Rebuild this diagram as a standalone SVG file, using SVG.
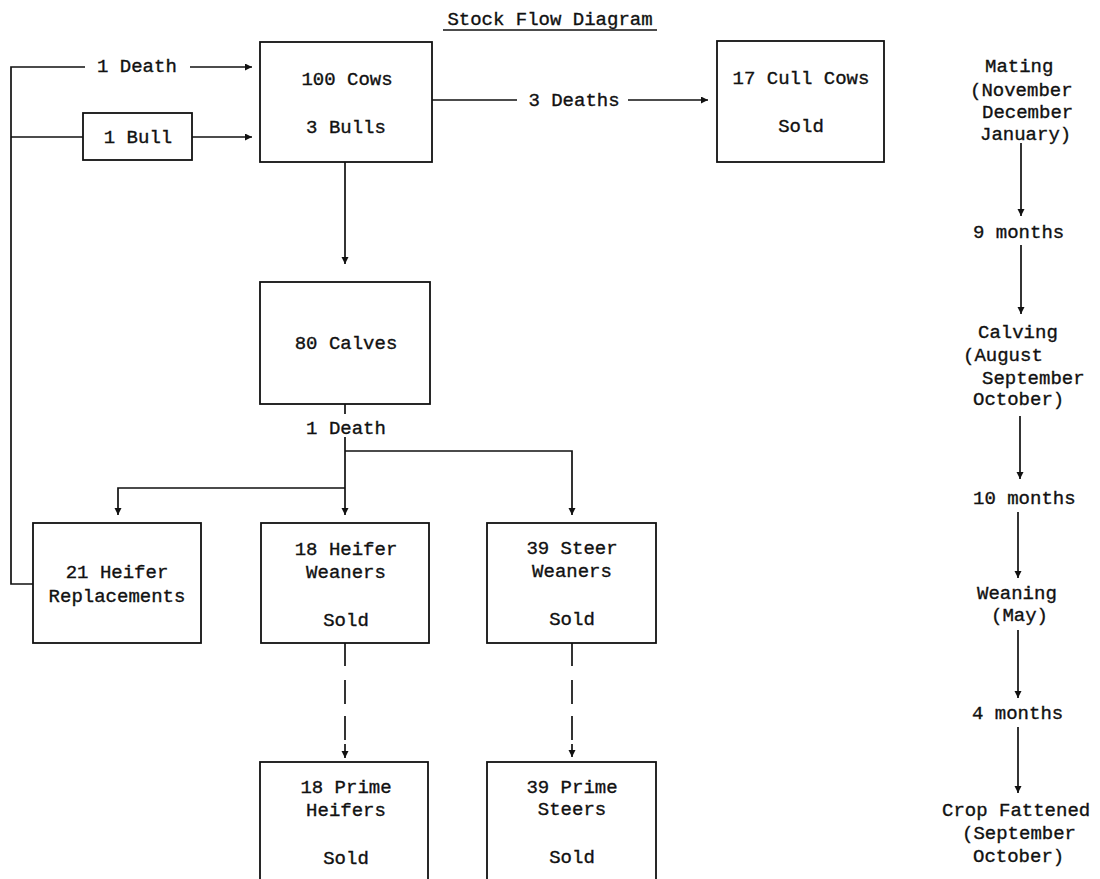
<svg xmlns="http://www.w3.org/2000/svg" width="1100" height="879" viewBox="0 0 1100 879">
<style>
text{font-family:"Liberation Mono","DejaVu Sans Mono",monospace;font-size:19px;fill:#111;stroke:#111;stroke-width:0.35}
.m{text-anchor:middle}
.box{fill:none;stroke:#111;stroke-width:1.8}
.ln{fill:none;stroke:#111;stroke-width:1.7}
</style>
<defs>
<marker id="ah" markerUnits="userSpaceOnUse" markerWidth="8" markerHeight="8" refX="7" refY="3.5" orient="auto">
<path d="M0,0 L7,3.5 L0,7 z" fill="#111"/>
</marker>
</defs>
<rect width="1100" height="879" fill="#fff"/>
<g id="title">
<text x="550" y="25" class="m">Stock Flow Diagram</text>
<line x1="443" y1="30" x2="657" y2="30" class="ln"/>
</g>
<g id="connectors">
<polyline points="33,584 11,584 11,67 85,67" class="ln"/>
<line x1="190" y1="67" x2="252" y2="67" class="ln" marker-end="url(#ah)"/>
<line x1="11" y1="137" x2="83" y2="137" class="ln"/>
<line x1="192" y1="137" x2="252" y2="137" class="ln" marker-end="url(#ah)"/>
<line x1="432" y1="100" x2="517" y2="100" class="ln"/>
<line x1="628" y1="100" x2="708" y2="100" class="ln" marker-end="url(#ah)"/>
<line x1="345" y1="162" x2="345" y2="264" class="ln" marker-end="url(#ah)"/>
<line x1="345" y1="404" x2="345" y2="414" class="ln"/>
<line x1="345" y1="437" x2="345" y2="515" class="ln" marker-end="url(#ah)"/>
<polyline points="345,451 572,451 572,515" class="ln" marker-end="url(#ah)"/>
<polyline points="345,488 118,488 118,515" class="ln" marker-end="url(#ah)"/>
<path d="M345,643 V666 M345,680 V704 M345,716 V740" class="ln"/>
<line x1="345" y1="744" x2="345" y2="758" class="ln" marker-end="url(#ah)"/>
<path d="M572,643 V666 M572,680 V704 M572,716 V740" class="ln"/>
<line x1="572" y1="744" x2="572" y2="757" class="ln" marker-end="url(#ah)"/>
<line x1="1021" y1="143" x2="1021" y2="216" class="ln" marker-end="url(#ah)"/>
<line x1="1021" y1="245" x2="1021" y2="314" class="ln" marker-end="url(#ah)"/>
<line x1="1020" y1="416" x2="1020" y2="479" class="ln" marker-end="url(#ah)"/>
<line x1="1018" y1="512" x2="1018" y2="578" class="ln" marker-end="url(#ah)"/>
<line x1="1018" y1="630" x2="1018" y2="698" class="ln" marker-end="url(#ah)"/>
<line x1="1018" y1="727" x2="1018" y2="793" class="ln" marker-end="url(#ah)"/>
</g>
<g id="label-death-top"><text x="97" y="72">1 Death</text></g>
<g id="label-deaths"><text x="574" y="106" class="m">3 Deaths</text></g>
<g id="label-death-calves"><text x="346" y="434" class="m">1 Death</text></g>
<g id="bull">
<rect x="83" y="113" width="109" height="47" class="box"/>
<text x="138" y="143" class="m">1 Bull</text>
</g>
<g id="cows">
<rect x="260" y="42" width="172" height="120" class="box"/>
<text x="347" y="85" class="m">100 Cows</text>
<text x="346" y="133" class="m">3 Bulls</text>
</g>
<g id="cull">
<rect x="717" y="41" width="167" height="121" class="box"/>
<text x="801" y="84" class="m">17 Cull Cows</text>
<text x="801" y="132" class="m">Sold</text>
</g>
<g id="calves">
<rect x="260" y="282" width="170" height="122" class="box"/>
<text x="346" y="349" class="m">80 Calves</text>
</g>
<g id="replacements">
<rect x="33" y="523" width="168" height="120" class="box"/>
<text x="117" y="578" class="m">21 Heifer</text>
<text x="117" y="602" class="m">Replacements</text>
</g>
<g id="heifer-weaners">
<rect x="261" y="523" width="168" height="120" class="box"/>
<text x="346" y="555" class="m">18 Heifer</text>
<text x="346" y="578" class="m">Weaners</text>
<text x="346" y="626" class="m">Sold</text>
</g>
<g id="steer-weaners">
<rect x="487" y="523" width="169" height="120" class="box"/>
<text x="572" y="554" class="m">39 Steer</text>
<text x="572" y="577" class="m">Weaners</text>
<text x="572" y="625" class="m">Sold</text>
</g>
<g id="prime-heifers">
<rect x="260" y="762" width="168" height="130" class="box"/>
<text x="346" y="793" class="m">18 Prime</text>
<text x="346" y="816" class="m">Heifers</text>
<text x="346" y="864" class="m">Sold</text>
</g>
<g id="prime-steers">
<rect x="487" y="762" width="169" height="130" class="box"/>
<text x="572" y="793" class="m">39 Prime</text>
<text x="572" y="815" class="m">Steers</text>
<text x="572" y="863" class="m">Sold</text>
</g>
<g id="timeline">
<text x="985" y="72">Mating</text>
<text x="970" y="96">(November</text>
<text x="982" y="118">December</text>
<text x="980" y="140">January)</text>
<text x="973" y="238">9 months</text>
<text x="978" y="338">Calving</text>
<text x="963" y="361">(August</text>
<text x="982" y="384">September</text>
<text x="973" y="405">October)</text>
<text x="973" y="504">10 months</text>
<text x="977" y="599">Weaning</text>
<text x="991" y="621">(May)</text>
<text x="972" y="719">4 months</text>
<text x="942" y="816">Crop Fattened</text>
<text x="962" y="839">(September</text>
<text x="973" y="862">October)</text>
</g>
</svg>
